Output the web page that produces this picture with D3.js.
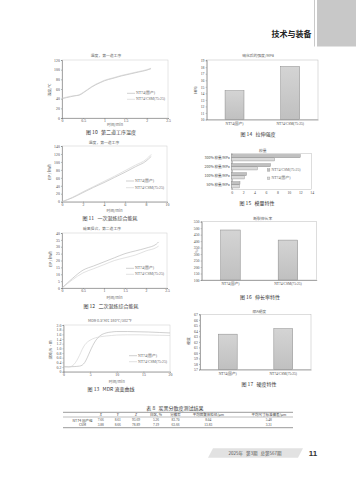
<!DOCTYPE html>
<html><head><meta charset="utf-8">
<script src="https://cdn.jsdelivr.net/npm/d3@7"></script>
<style>html,body{margin:0;padding:0;background:#fff;}svg{display:block} text{white-space:pre}</style>
</head><body>
<script>
// ---------------- data ----------------
const seriesNames = ["NT74(国产)", "NT74/CSM(75:25)"];

const f10Time  = [0, 0.1, 0.2, 0.3, 0.4, 0.5, 0.6, 0.7, 0.8, 0.9, 1.0, 1.2, 1.4, 1.6, 1.8, 2.0, 2.1];
const f10TempA = [40, 42, 44, 46, 47, 52, 58, 64, 69, 73, 77, 82, 87, 91, 95, 99, 102];
const f10TempB = [41, 43, 45, 46, 48, 53, 59, 65, 70, 74, 78, 83, 88, 92, 96, 100, 103];
const f10XTicks = [0, 0.5, 1, 1.5, 2, 2.5];
const f10YTicks = [0, 20, 40, 60, 80, 100, 120];

const f11Time = [0, 1, 2, 3, 4, 5, 6, 7, 8, 8.5];
const f11EpA  = [0, 10, 23, 36, 48, 61, 74, 88, 102, 114];
const f11EpB  = [0, 11, 25, 38, 51, 64, 78, 92, 106, 119];
const f11XTicks = [0, 2, 4, 6, 8, 10];
const f11YTicks = [0, 20, 40, 60, 80, 100, 120, 140];

const f12Time = [0, 0.25, 0.5, 0.75, 1, 1.25, 1.5, 1.75, 2, 2.25, 2.3];
const f12EpA  = [0, 7, 13, 16, 19, 22, 25, 27, 29, 32, 33.5];
const f12EpB  = [0, 6, 11, 14, 17, 20, 22, 24, 27, 29.5, 30.5];
const f12XTicks = [0, 0.5, 1, 1.5, 2, 2.5];
const f12YTicks = [0, 5, 10, 15, 20, 25, 30, 35, 40];

const f13Time = [0, 1, 2, 3, 3.5, 4, 4.5, 5, 5.5, 6, 6.5, 7, 8, 9, 10, 12, 14, 16, 18, 20];
const f13TqA  = [0.22, 0.21, 0.22, 0.24, 0.28, 0.4, 0.62, 0.88, 1.12, 1.32, 1.46, 1.56, 1.66, 1.7, 1.72, 1.72, 1.71, 1.7, 1.68, 1.66];
const f13TqB  = [0.2, 0.2, 0.32, 0.7, 0.95, 1.15, 1.27, 1.35, 1.41, 1.45, 1.48, 1.5, 1.53, 1.55, 1.57, 1.58, 1.58, 1.57, 1.56, 1.55];
const f13XTicks = [0, 5, 10, 15, 20];
const f13YTicks = [0, 0.2, 0.4, 0.6, 0.8, 1.0, 1.2, 1.4, 1.6, 1.8, 2.0];

const barCats = ["NT74(国产)", "NT74/CSM(75:25)"];
const f14Strength = [14.4, 18.1];
const f14YTicks = [10, 11, 12, 13, 14, 15, 16, 17, 18, 19];

const f15Cats = ["300% 模量/MPa", "200% 模量/MPa", "100% 模量/MPa", "50% 模量/MPa"];
const f15Series = ["NT74/CSM(75:25)", "NT74(国产)"];
const f15CSM  = [12.0, 6.8, 2.6, 1.45];
const f15NT74 = [7.5, 4.5, 2.2, 1.35];
const f15XTicks = [0, 2, 4, 6, 8, 10, 12, 14];

const f16Elong = [486, 408];
const f16YTicks = [100, 150, 200, 250, 300, 350, 400, 450, 500, 550];

const f17Hard = [63.4, 64.4];
const f17YTicks = [57, 58, 59, 60, 61, 62, 63, 64, 65, 66, 67];

const tableHeaders = ["", "X", "Y", "Z", "白区, %", "分散率", "平均团聚体粒径/μm", "平均尺寸标准偏差/μm"];
const tableRowNames = ["NT74 国产组", "CSM"];
const tableRow1 = ["7.66", "8.61", "93.69", "5.26", "83.70", "8.04", "5.48"];
const tableRow2 = ["3.88", "8.66", "78.89", "7.19", "63.66", "13.83", "3.31"];

// ---------------- drawing ----------------
const W = 356, H = 480;
const SERIF = "'Liberation Serif','Noto Sans CJK SC',serif";
const CJK = "'Noto Sans CJK SC','Noto Sans',sans-serif";
const svg = d3.select("body").append("svg").attr("width", W).attr("height", H);

function txt(x, y, s, o = {}) {
  return svg.append("text").attr("x", x).attr("y", y).text(s)
    .attr("font-size", o.size || 4).attr("font-family", o.font || SERIF)
    .attr("fill", o.fill || "#555").attr("text-anchor", o.anchor || "middle")
    .attr("dominant-baseline", "central").attr("font-weight", o.weight || "normal");
}
function vtxt(x, y, s, o = {}) {
  return svg.append("text").attr("transform", `translate(${x},${y}) rotate(-90)`).text(s)
    .attr("font-size", o.size || 4).attr("font-family", o.font || SERIF)
    .attr("fill", o.fill || "#555").attr("text-anchor", "middle").attr("dominant-baseline", "central");
}
function styleAxis(g) {
  g.attr("font-size", 3.8).attr("font-family", SERIF);
  g.select(".domain").attr("stroke", "#777").attr("stroke-width", 0.6);
  g.selectAll(".tick line").attr("stroke", "#777").attr("stroke-width", 0.5);
  g.selectAll(".tick text").attr("fill", "#4a4a4a");
}
function caption(x, y, s) {
  txt(x, y, s, { size: 5, font: CJK, fill: "#333" });
}

// header
svg.append("rect").attr("x", 317).attr("y", 0).attr("width", 39).attr("height", 46.5).attr("fill", "#c8c8c8");
svg.append("line").attr("x1", 314.5).attr("x2", 314.5).attr("y1", 0).attr("y2", 46.5).attr("stroke", "#bbb").attr("stroke-width", 0.8);
txt(311.5, 33.5, "技术与装备", { size: 8, font: CJK, fill: "#222", anchor: "end", weight: "bold" });

// line chart
function lineChart(o) {
  const x = d3.scaleLinear().domain(o.xd).range([o.l, o.r]);
  const y = d3.scaleLinear().domain(o.yd).range([o.b, o.t]);
  svg.append("rect").attr("x", o.l).attr("y", o.t).attr("width", o.r - o.l).attr("height", o.b - o.t)
    .attr("fill", "none").attr("stroke", "#ccc").attr("stroke-width", 0.5);
  const gx = svg.append("g").attr("transform", `translate(0,${o.b})`)
    .call(d3.axisBottom(x).tickValues(o.xt).tickSize(1).tickPadding(0.8).tickFormat(o.xf || d3.format("")));
  styleAxis(gx);
  const gy = svg.append("g").attr("transform", `translate(${o.l},0)`)
    .call(d3.axisLeft(y).tickValues(o.yt).tickSize(1).tickPadding(1.2).tickFormat(o.yf || d3.format("")));
  styleAxis(gy);
  const line = d3.line().x(d => x(d[0])).y(d => y(d[1])).curve(d3.curveMonotoneX);
  const cols = ["#b0b0b0", "#cfcfcf"];
  o.series.forEach((s, i) => {
    svg.append("path").datum(o.t0.map((t, k) => [t, s[k]])).attr("d", line)
      .attr("fill", "none").attr("stroke", cols[i]).attr("stroke-width", 0.6);
    const ly = o.legY[i];
    svg.append("line").attr("x1", o.legX).attr("x2", o.legX + 8).attr("y1", ly).attr("y2", ly)
      .attr("stroke", cols[i]).attr("stroke-width", 0.6);
    txt(o.legX + 9, ly, seriesNames[i], { size: 3.8, anchor: "start", fill: "#666" });
  });
  txt(o.titleX, o.titleY, o.title, { size: 3.8, font: CJK, fill: "#666" });
  txt((o.l + o.r) / 2, o.xlY, "时间/min", { size: 3.8, font: CJK, fill: "#666" });
  vtxt(o.ylX, o.ylY, o.ylabel, { size: 3.8, font: CJK, fill: "#666" });
  caption(o.capX, o.capY, o.cap);
}

const SP = "\u00a0\u00a0\u00a0";

lineChart({ l: 62, r: 168, t: 60, b: 118, xd: [0, 2.5], yd: [0, 120], xt: f10XTicks, yt: f10YTicks,
  t0: f10Time, series: [f10TempA, f10TempB], legX: 127, legY: [93.3, 99.3],
  title: "温度，第一道工序", titleX: 106, titleY: 55.5, xlY: 124.5, ylX: 49.5, ylY: 90, ylabel: "温度/℃",
  capX: 111, capY: 131, cap: "图 10" + SP + "第二道工序温度" });

lineChart({ l: 62, r: 167, t: 146, b: 201.7, xd: [0, 10], yd: [0, 140], xt: f11XTicks, yt: f11YTicks,
  t0: f11Time, series: [f11EpA, f11EpB], legX: 126, legY: [181, 187.7],
  title: "温度，第一道工序", titleX: 104, titleY: 142.5, xlY: 210.5, ylX: 49.5, ylY: 172, ylabel: "EP / kWh",
  capX: 110, capY: 217.5, cap: "图 11" + SP + "一次混炼综合能耗" });

lineChart({ l: 62, r: 167, t: 233, b: 288, xd: [0, 2.5], yd: [0, 40], xt: f12XTicks, yt: f12YTicks,
  t0: f12Time, series: [f12EpA, f12EpB], legX: 126, legY: [268.3, 274.3],
  title: "碳黑捏合，第二道工序", titleX: 102, titleY: 228.5, xlY: 297.5, ylX: 50, ylY: 259, ylabel: "EP / kWh",
  capX: 111, capY: 305, cap: "图 12" + SP + "二次混炼综合能耗" });

lineChart({ l: 63.5, r: 170, t: 325, b: 371.7, xd: [0, 20], yd: [0, 2.0], xt: f13XTicks, yt: f13YTicks,
  yf: d => d === 0 ? "0" : d3.format(".1f")(d),
  t0: f13Time, series: [f13TqA, f13TqB], legX: 129, legY: [355.7, 361.7],
  title: "MDR 0.5°Arc 180℃/302℉", titleX: 110, titleY: 320.7, xlY: 381, ylX: 50.5, ylY: 350, ylabel: "扭矩/N·m",
  capX: 111, capY: 388.3, cap: "图 13" + SP + "MDR 流变曲线" });

// vertical bar chart
function barChart(o) {
  const x = d3.scaleBand().domain(barCats).range([o.l, o.r]).paddingInner(0.66).paddingOuter(0.33);
  const y = d3.scaleLinear().domain(o.yd).range([o.b, o.t]);
  svg.append("rect").attr("x", o.l).attr("y", o.t).attr("width", o.r - o.l).attr("height", o.b - o.t)
    .attr("fill", "none").attr("stroke", "#bbb").attr("stroke-width", 0.5);
  const gy = svg.append("g").attr("transform", `translate(${o.l},0)`)
    .call(d3.axisLeft(y).tickValues(o.yt).tickSize(1).tickPadding(1.2).tickFormat(d3.format("")));
  styleAxis(gy);
  const gx = svg.append("g").attr("transform", `translate(0,${o.b})`)
    .call(d3.axisBottom(x).tickSize(0).tickPadding(2.5));
  styleAxis(gx);
  gx.selectAll(".tick text").attr("font-size", 3.6);
  svg.selectAll(null).data(o.values).enter().append("rect")
    .attr("x", (d, i) => x(barCats[i])).attr("width", x.bandwidth())
    .attr("y", d => y(d)).attr("height", d => o.b - y(d))
    .attr("fill", "url(#barGrad)").attr("stroke", "#888").attr("stroke-width", 0.5);
  txt(o.titleX, o.titleY, o.title, { size: 3.8, font: CJK, fill: "#666" });
  vtxt(o.ylX, o.ylY, o.ylabel, { size: 3.8, font: CJK, fill: "#666" });
  caption(o.capX, o.capY, o.cap);
}
const defs = svg.append("defs");
const grad = defs.append("linearGradient").attr("id", "barGrad").attr("x1", 0).attr("x2", 0).attr("y1", 0).attr("y2", 1);
grad.append("stop").attr("offset", "0%").attr("stop-color", "#d4d4d4");
grad.append("stop").attr("offset", "100%").attr("stop-color", "#c0c0c0");

barChart({ l: 206.7, r: 318, t: 60, b: 119.5, yd: [10, 19.1], yt: f14YTicks, values: f14Strength,
  title: "硫化后的强度/MPa", titleX: 258, titleY: 55.7, ylX: 195, ylY: 90, ylabel: "MPa",
  capX: 258, capY: 133.3, cap: "图 14" + SP + "拉伸强度" });

barChart({ l: 201.7, r: 316.7, t: 221.7, b: 280, yd: [100, 550], yt: f16YTicks, values: f16Elong,
  title: "断裂伸长率", titleX: 262.7, titleY: 218.5, ylX: 196.5, ylY: 251, ylabel: "%",
  capX: 260, capY: 296, cap: "图 16" + SP + "伸长率特性" });

barChart({ l: 200, r: 311, t: 314.3, b: 369.5, yd: [57, 67], yt: f17YTicks, values: f17Hard,
  title: "邵A硬度", titleX: 259.3, titleY: 311, ylX: 188, ylY: 341, ylabel: "硬度",
  capX: 259, capY: 383.3, cap: "图 17" + SP + "硬度特性" });

// horizontal bar chart (fig 15)
(function () {
  const l = 231.7, r = 311.7, t = 153.3, b = 189.3;
  const x = d3.scaleLinear().domain([0, 14]).range([l, r]);
  const y = d3.scaleBand().domain(f15Cats).range([t, b]).paddingInner(0.3).paddingOuter(0.15);
  const ys = d3.scaleBand().domain(f15Series).range([0, y.bandwidth()]);
  svg.append("rect").attr("x", l).attr("y", t).attr("width", r - l).attr("height", b - t)
    .attr("fill", "none").attr("stroke", "#bbb").attr("stroke-width", 0.5);
  const gx = svg.append("g").attr("transform", `translate(0,${b})`)
    .call(d3.axisBottom(x).tickValues(f15XTicks).tickSize(0).tickPadding(2.5));
  styleAxis(gx);
  gx.select(".domain").attr("stroke", "none");
  const gy = svg.append("g").attr("transform", `translate(${l},0)`)
    .call(d3.axisLeft(y).tickSize(0).tickPadding(2));
  styleAxis(gy);
  gy.selectAll(".tick text").attr("font-family", CJK).attr("font-size", 3.5);
  const fills = { "NT74/CSM(75:25)": "#c0c0c0", "NT74(国产)": "#dadada" };
  const vals = { "NT74/CSM(75:25)": f15CSM, "NT74(国产)": f15NT74 };
  f15Series.forEach(s => {
    svg.selectAll(null).data(vals[s]).enter().append("rect")
      .attr("x", l).attr("y", (d, i) => y(f15Cats[i]) + ys(s)).attr("height", ys.bandwidth())
      .attr("width", d => x(d) - l).attr("fill", fills[s]).attr("stroke", "#888").attr("stroke-width", 0.4);
  });
  const legY = [170, 178.3];
  f15Series.forEach((s, i) => {
    svg.append("rect").attr("x", 267.3).attr("y", legY[i] - 1.3).attr("width", 2.6).attr("height", 2.6)
      .attr("fill", fills[s]).attr("stroke", "#888").attr("stroke-width", 0.3);
    txt(271.5, legY[i], s, { size: 3.8, anchor: "start", fill: "#666" });
  });
  txt(262.7, 150, "模量", { size: 3.8, font: CJK, fill: "#666" });
  caption(257, 202.3, "图 15" + SP + "模量特性");
})();

// table
(function () {
  txt(175, 407.3, "表 8" + SP + "炭黑分散度测试结果", { size: 5, font: CJK, fill: "#333" });
  const colX = [82.5, 100.7, 117.8, 136, 156, 175.5, 208.3, 268.8];
  const x0 = 63, x1 = 293;
  [412.3, 417, 427.7].forEach((yy, i) => svg.append("line").attr("x1", x0).attr("x2", x1)
    .attr("y1", yy).attr("y2", yy).attr("stroke", "#555").attr("stroke-width", i === 1 ? 0.4 : 0.6));
  tableHeaders.forEach((h, i) => txt(colX[i], 414.7, h, { size: 3.5, font: i >= 1 && i <= 3 ? SERIF : CJK, fill: "#444" })
    .attr("font-style", i >= 1 && i <= 3 ? "italic" : "normal"));
  [tableRow1, tableRow2].forEach((row, r) => {
    const yy = r === 0 ? 420 : 424.5;
    txt(colX[0], yy, tableRowNames[r], { size: 3.5, font: CJK, fill: "#444" });
    row.forEach((v, i) => txt(colX[i + 1], yy, v, { size: 3.5, fill: "#444" }));
  });
})();

// footer
svg.append("polygon").attr("points", "213,448.3 303,448.3 298,457.7 208,457.7").attr("fill", "#e2e2e2");
txt(255, 453, "2025年" + SP + "第3期" + SP + "总第567期", { size: 4.5, font: CJK, fill: "#555" });
txt(313, 453, "11", { size: 8, font: "'Liberation Sans',sans-serif", fill: "#333", weight: "bold" });
</script>
</body></html>
